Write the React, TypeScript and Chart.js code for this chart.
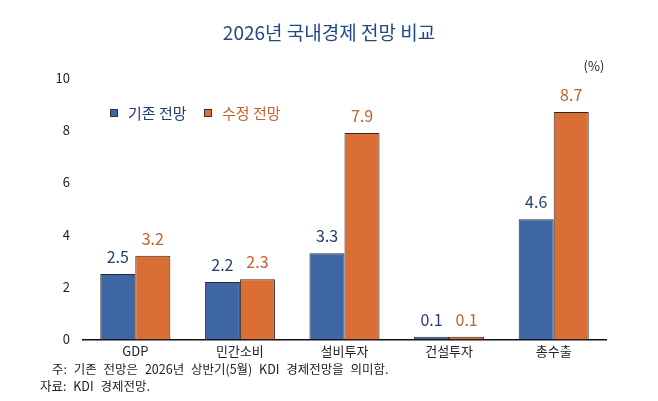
import React, { useEffect, useRef } from 'react'
import Chart from 'chart.js/auto'

const categories = ['GDP', '민간소비', '설비투자', '건설투자', '총수출']
const baseline = [2.5, 2.2, 3.3, 0.1, 4.6]
const revised = [3.2, 2.3, 7.9, 0.1, 8.7]
const seriesNames = ['기존 전망', '수정 전망']
const yTicks = [0, 2, 4, 6, 8, 10]
const title = '2026년 국내경제 전망 비교'
const unit = '(%)'
const notes = ['주: 기존 전망은 2026년 상반기(5월) KDI 경제전망을 의미함.', '자료: KDI 경제전망.']

const FONT = '"Noto Sans CJK KR", "Noto Sans", sans-serif'
const BLUE = '#3E66A5'
const ORANGE = '#DA6E34'
const BLUE_TEXT = '#233F6E'
const ORANGE_TEXT = '#C2622C'

// title, legend, unit, value labels and notes drawn straight on the canvas
const decorations = {
  id: 'decorations',
  afterDraw(chart: any) {
    const ctx = chart.ctx
    ctx.save()
    ctx.textBaseline = 'middle'

    ctx.font = `400 19px ${FONT}`
    ctx.fillStyle = '#1F4A80'
    ctx.textAlign = 'center'
    ctx.fillText(title, 329, 33)

    ctx.font = `13px ${FONT}`
    ctx.fillStyle = '#222'
    ctx.fillText(unit, 594, 66)

    // legend
    ctx.textAlign = 'left'
    ctx.font = `15px ${FONT}`
    const legend = [
      { x: 110, fill: BLUE, text: BLUE_TEXT },
      { x: 204, fill: ORANGE, text: ORANGE_TEXT },
    ]
    legend.forEach((l, i) => {
      ctx.fillStyle = l.fill
      ctx.strokeStyle = '#333'
      ctx.lineWidth = 1
      ctx.fillRect(l.x, 109, 8, 8)
      ctx.strokeRect(l.x + 0.5, 109.5, 7, 7)
      ctx.fillStyle = l.text
      ctx.fillText(seriesNames[i], l.x + 18, 113)
    })

    // value labels
    ctx.textAlign = 'center'
    ctx.font = `16px ${FONT}`
    chart.data.datasets.forEach((ds: any, di: number) => {
      const meta = chart.getDatasetMeta(di)
      ctx.fillStyle = di === 0 ? BLUE_TEXT : ORANGE_TEXT
      meta.data.forEach((bar: any, i: number) => {
        ctx.fillText(ds.data[i].toFixed(1), bar.x, bar.y - 17)
      })
    })

    // notes
    ctx.textAlign = 'left'
    ctx.font = `12.5px ${FONT}`
    ctx.wordSpacing = '4px'
    ctx.fillStyle = '#222'
    ctx.fillText(notes[0], 52, 369)
    ctx.fillText(notes[1], 40, 386)
    ctx.restore()
  },
}

const App = () => {
  const chartRef = useRef<HTMLCanvasElement | null>(null)

  useEffect(() => {
    if (!chartRef.current) return
    const chart = new Chart(chartRef.current, {
      type: 'bar',
      data: {
        labels: categories,
        datasets: [
          {
            label: seriesNames[0],
            data: baseline,
            backgroundColor: BLUE,
            borderColor: '#2a2a2a',
            borderWidth: 1,
          },
          {
            label: seriesNames[1],
            data: revised,
            backgroundColor: ORANGE,
            borderColor: '#2a2a2a',
            borderWidth: 1,
          },
        ],
      },
      options: {
        animation: false,
        responsive: false,
        events: [],
        layout: { padding: { top: 78, right: 52, bottom: 38, left: 0 } },
        datasets: { bar: { categoryPercentage: 0.67, barPercentage: 1.0 } },
        plugins: {
          legend: { display: false },
          tooltip: { enabled: false },
          title: { display: false },
        },
        scales: {
          x: {
            grid: { display: false, drawTicks: false },
            border: { display: true, color: '#111', width: 1.5 },
            ticks: { color: '#222', font: { family: FONT, size: 13 }, padding: 4 },
          },
          y: {
            min: 0,
            max: 10,
            afterBuildTicks: (s: any) => {
              s.ticks = yTicks.map((v) => ({ value: v }))
            },
            grid: { display: false, drawTicks: false },
            border: { display: false },
            ticks: { color: '#222', font: { family: FONT, size: 13 }, padding: 13 },
            afterFit: (s: any) => {
              s.width = 83
            },
          },
        },
      },
      plugins: [decorations],
    })

    return () => chart.destroy()
  }, [])

  return (
    <div style={{ position: 'absolute', left: 0, top: 0, width: 658, height: 401, background: '#fff' }}>
      <canvas ref={chartRef} width={658} height={401} />
    </div>
  )
}

export default App
